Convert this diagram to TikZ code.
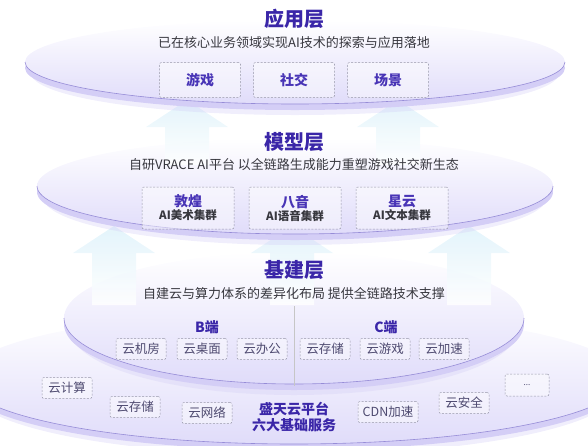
\documentclass[tikz,border=0pt]{standalone}
\usepackage{fontspec}
\setmainfont{Noto Sans CJK SC}
\usetikzlibrary{arrows.meta}

\definecolor{titlecol}{RGB}{58,38,168}
\definecolor{boxcol}{RGB}{72,52,182}
\definecolor{desccol}{RGB}{55,55,62}
\definecolor{svccol}{RGB}{78,74,112}
\definecolor{boxline}{RGB}{150,150,168}
\definecolor{disccol}{RGB}{224,220,250}
\definecolor{rimcol}{RGB}{212,206,246}
\definecolor{rimline}{RGB}{150,140,215}
\definecolor{arrcol}{RGB}{222,242,250}

% disc: centre x, centre y, x radius, y radius
\newcommand{\layerdisc}[4]{%
  \fill[rimcol, opacity=.35] (#1,{#2+11}) ellipse [x radius={(#3-6)*1pt}, y radius=#4pt];
  \fill[rimcol] (#1,{#2+6}) ellipse [x radius=#3pt, y radius=#4pt];
  \shade[top color=white, bottom color=disccol] (#1,#2) ellipse [x radius=#3pt, y radius=#4pt];
  \draw[rimline, line width=.6pt] ({#1-#3},#2) arc [start angle=180, end angle=360, x radius=#3pt, y radius=#4pt];
}
% arrow: centre x, tip y, bottom y
\newcommand{\riseArrow}[3]{%
  \shade[top color=arrcol, bottom color=white, fill opacity=.85] (#1,#2) -- ({#1+41},{#2+27}) -- ({#1+22},{#2+27})
    -- ({#1+22},#3) -- ({#1-22},#3) -- ({#1-22},{#2+27}) -- ({#1-41},{#2+27}) -- cycle;
}
\newcommand{\modelname}[1]{{\fontsize{14}{16}\selectfont\color{boxcol}#1}}

\begin{document}
\begin{tikzpicture}[x = 1pt , y = -1pt,
    layertitle/.style = {font=\fontsize{20}{22}\selectfont\bfseries, text=titlecol},
    layerdesc/.style = {font=\fontsize{13}{15}\selectfont, text=desccol},
    dashbox/.style = {draw=boxline, line width=.5pt, dash pattern=on 2pt off 1.5pt, rounded corners=2pt,
                      fill=white, fill opacity=.45, text opacity=1, inner sep=2pt},
    appbox/.style = {dashbox, minimum width=81pt, minimum height=35pt,
                     font=\fontsize{14}{16}\selectfont\bfseries, text=boxcol},
    modelbox/.style = {dashbox, minimum width=92pt, minimum height=42pt, align=center,
                       font=\fontsize{11.5}{13}\selectfont\bfseries, text=desccol},
    svcbox/.style = {dashbox, minimum width=50pt, minimum height=21pt,
                     font=\fontsize{12.5}{14}\selectfont, text=svccol},
    sidetitle/.style = {font=\fontsize{14}{16}\selectfont\bfseries, text=titlecol}]
    \useasboundingbox (0,0) rectangle (588,445);
    \clip (0,0) rectangle (588,445);

    % base layer, outer and inner disc
    \layerdisc{294}{378}{330}{66}
    \layerdisc{294}{318}{230}{66}
    \riseArrow{114}{226}{305}
    \riseArrow{292}{226}{305}
    \riseArrow{469}{226}{305}

    % model layer
    \layerdisc{295}{186}{258}{48}
    \riseArrow{187}{100}{165}
    \riseArrow{398}{100}{165}

    % application layer
    \layerdisc{295}{62}{270}{42}

    \node[layertitle] (appTitle) at (294,19) {应用层};
    \node[layerdesc] (appDesc) at (294,43) {已在核心业务领域实现AI技术的探索与应用落地};
    \node[appbox] (game) at (200,80) {游戏};
    \node[appbox] (social) at (294,80) {社交};
    \node[appbox] (scene) at (388,80) {场景};

    \node[layertitle] (modelTitle) at (294,142) {模型层};
    \node[layerdesc] (modelDesc) at (294,165) {自研VRACE AI平台 以全链路生成能力重塑游戏社交新生态};
    \node[modelbox] (dunhuang) at (188,208) {\modelname{敦煌}\\AI美术集群};
    \node[modelbox] (bayin) at (295,208) {\modelname{八音}\\AI语音集群};
    \node[modelbox] (xingyun) at (402,208) {\modelname{星云}\\AI文本集群};

    \node[layertitle] (baseTitle) at (294,270) {基建层};
    \node[layerdesc] (baseDesc) at (294,294) {自建云与算力体系的差异化布局 提供全链路技术支撑};
    \draw[gray!45, line width=.6pt] (294,306) -- (294,386);
    \node[sidetitle] (bSide) at (207,327) {B端};
    \node[sidetitle] (cSide) at (386,327) {C端};
    \node[svcbox] (room) at (141,349) {云机房};
    \node[svcbox] (desk) at (202,349) {云桌面};
    \node[svcbox] (office) at (262,349) {云办公};
    \node[svcbox] (cStore) at (325,349) {云存储};
    \node[svcbox] (cGame) at (385,349) {云游戏};
    \node[svcbox] (cSpeed) at (444,349) {云加速};

    \node[svcbox] (compute) at (67,388) {云计算};
    \node[svcbox] (store) at (135,407) {云存储};
    \node[svcbox] (network) at (207,413) {云网络};
    \node[svcbox, minimum width=60pt] (cdn) at (388,412) {CDN加速};
    \node[svcbox] (secure) at (464,403) {云安全};
    \node[svcbox, minimum width=44pt, minimum height=22pt, font=\fontsize{8}{9}\selectfont] (more) at (527,385) {...};
    \node[sidetitle, align=center] (platform) at (294,417) {盛天云平台\\六大基础服务};
\end{tikzpicture}
\end{document}
